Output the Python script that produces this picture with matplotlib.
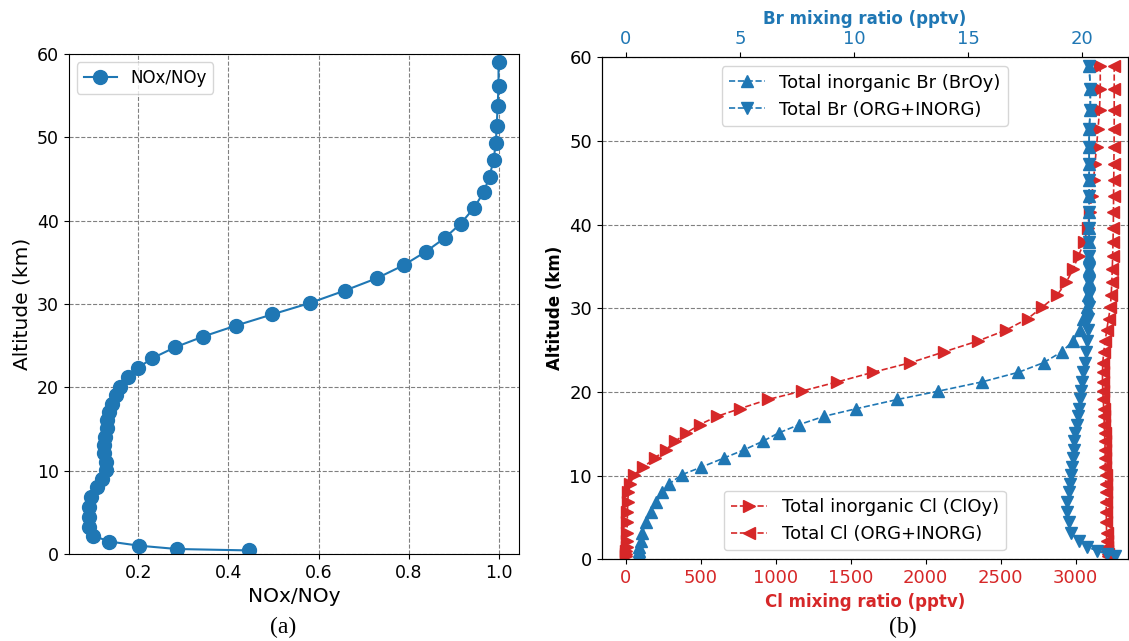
import matplotlib
matplotlib.use('Agg')
import matplotlib.pyplot as plt

# Altitude levels (km), shared by both panels
altitude = [59.0, 56.2, 53.7, 51.4, 49.3, 47.3, 45.3, 43.4, 41.5, 39.65,
            37.9, 36.3, 34.65, 33.1, 31.6, 30.1, 28.75, 27.4, 26.1, 24.8,
            23.5, 22.35, 21.2, 20.1, 19.1, 18.0, 17.1, 16.1, 15.1, 14.1,
            13.1, 12.1, 11.0, 10.1, 9.0, 8.0, 6.8, 5.6, 4.4, 3.2,
            2.2, 1.5, 1.0, 0.6, 0.43]

# (a) NOx/NOy ratio
nox_noy = [1.0, 1.0, 0.998, 0.996, 0.994, 0.989, 0.980, 0.967, 0.945, 0.916,
           0.880, 0.839, 0.789, 0.730, 0.658, 0.580, 0.497, 0.416, 0.344, 0.281,
           0.231, 0.199, 0.176, 0.159, 0.150, 0.141, 0.135, 0.131, 0.129, 0.126,
           0.124, 0.124, 0.128, 0.127, 0.120, 0.107, 0.094, 0.091, 0.090, 0.091,
           0.099, 0.135, 0.201, 0.285, 0.445]

# (b) chlorine (pptv)
cloy = [3165, 3165, 3160, 3150, 3140, 3130, 3120, 3108, 3095, 3080,
        3058, 3020, 2983, 2938, 2878, 2776, 2680, 2537, 2350, 2124,
        1899, 1649, 1411, 1174, 949, 761, 611, 493, 405, 330,
        268, 193, 118, 55, 30, 18, 13, 12, 10, 9,
        7, 6, 5, 4, 3]
cl_total = [3258, 3258, 3258, 3258, 3257, 3256, 3255, 3254, 3253, 3252,
            3250, 3248, 3245, 3242, 3238, 3232, 3220, 3208, 3198, 3188,
            3182, 3180, 3180, 3182, 3185, 3188, 3190, 3192, 3194, 3196,
            3197, 3198, 3199, 3200, 3202, 3204, 3205, 3205, 3206, 3207,
            3208, 3210, 3212, 3214, 3215]

# (b) bromine (pptv)
broy = [20.3, 20.35, 20.35, 20.3, 20.3, 20.3, 20.3, 20.3, 20.3, 20.3,
        20.3, 20.3, 20.3, 20.3, 20.25, 20.2, 20.05, 19.9, 19.6, 19.1,
        18.3, 17.2, 15.6, 13.7, 11.9, 10.1, 8.7, 7.6, 6.7, 6.0,
        5.2, 4.3, 3.3, 2.45, 1.9, 1.6, 1.35, 1.1, 0.9, 0.73,
        0.66, 0.6, 0.58, 0.58, 0.58]
br_total = [20.3, 20.35, 20.35, 20.3, 20.3, 20.3, 20.3, 20.3, 20.3, 20.3,
            20.3, 20.3, 20.3, 20.3, 20.3, 20.3, 20.25, 20.25, 20.2, 20.15,
            20.1, 20.05, 20.0, 19.95, 19.9, 19.85, 19.8, 19.75, 19.7, 19.65,
            19.62, 19.6, 19.55, 19.5, 19.45, 19.4, 19.35, 19.35, 19.4, 19.5,
            19.85, 20.2, 20.65, 21.1, 21.45]

blue = '#1f77b4'
red = '#d62728'

fig = plt.figure(figsize=(11.29, 6.41), dpi=100)

# ---- (a) ----
ax1 = fig.add_axes([68.5 / 1129, 87 / 641, 450.5 / 1129, 500 / 641])
ax1.plot(nox_noy, altitude, '-o', color=blue, markersize=10, linewidth=1.5,
         label='NOx/NOy')
ax1.set_ylim(0, 60)
ax1.grid(True, linestyle='--', color='gray', linewidth=0.8)
ax1.set_xlabel('NOx/NOy', fontsize=14.5)
ax1.set_ylabel('Altitude (km)', fontsize=14.5)
ax1.tick_params(labelsize=12.5)
ax1.legend(loc='upper left', fontsize=12)

# ---- (b) ----
ax2 = fig.add_axes([601.7 / 1129, 81.7 / 641, 526.3 / 1129, 502 / 641])
ax2.plot(cloy, altitude, '-->', color=red, markersize=9, linewidth=1.2,
         label='Total inorganic Cl (ClOy)')
ax2.plot(cl_total, altitude, '--<', color=red, markersize=9, linewidth=1.2,
         label='Total Cl (ORG+INORG)')
ax2.set_xlim(-160, 3350)
ax2.set_ylim(0, 60)
ax2.set_xticks([0, 500, 1000, 1500, 2000, 2500, 3000])
ax2.grid(True, axis='y', linestyle='--', color='gray', linewidth=0.8)
ax2.set_xlabel('Cl mixing ratio (pptv)', color=red, fontweight='bold',
               fontsize=12)
ax2.set_ylabel('Altitude (km)', fontweight='bold', fontsize=12)
ax2.tick_params(axis='x', labelcolor=red, labelsize=13)
ax2.tick_params(axis='y', labelsize=13)
ax2.legend(loc='lower center', fontsize=13)

ax3 = ax2.twiny()
ax3.plot(broy, altitude, '--^', color=blue, markersize=9, linewidth=1.2,
         label='Total inorganic Br (BrOy)')
ax3.plot(br_total, altitude, '--v', color=blue, markersize=9, linewidth=1.2,
         label='Total Br (ORG+INORG)')
ax3.set_xlim(-1.05, 22.0)
ax3.set_xticks([0, 5, 10, 15, 20])
ax3.set_xlabel('Br mixing ratio (pptv)', color=blue, fontweight='bold',
               fontsize=12)
ax3.tick_params(axis='x', labelcolor=blue, labelsize=13)
ax3.legend(loc='upper center', fontsize=13)

# panel captions
fig.text(283 / 1129, 1 - 627 / 641, '(a)', family='Liberation Serif',
         fontsize=17, ha='center', va='center')
fig.text(903 / 1129, 1 - 627 / 641, '(b)', family='Liberation Serif',
         fontsize=17, ha='center', va='center')

fig.savefig('out.png', dpi=100)
